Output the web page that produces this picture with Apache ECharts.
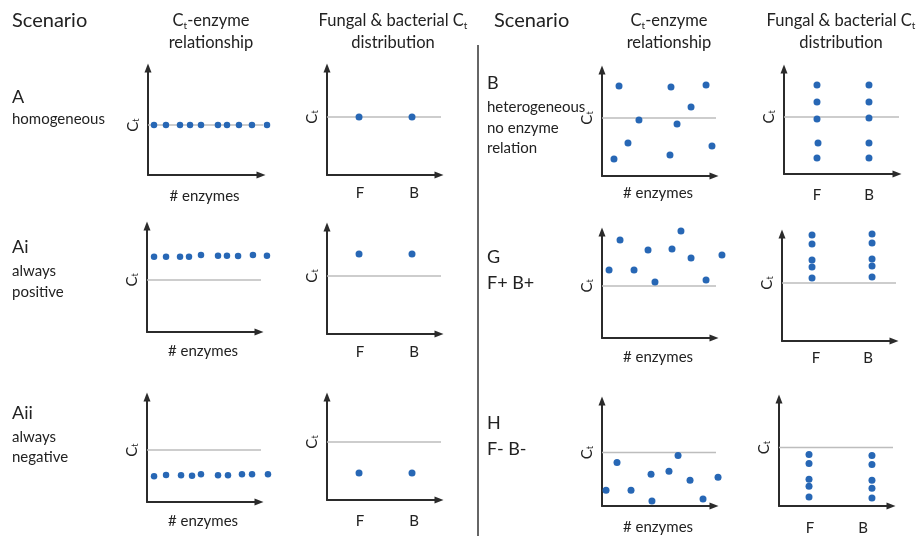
<!DOCTYPE html>
<html><head><meta charset="utf-8">
<script src="https://cdn.jsdelivr.net/npm/echarts@6/dist/echarts.min.js"></script>
<style>html,body{margin:0;padding:0;background:#fff}#c{width:920px;height:536px}</style>
</head><body><div id="c"></div>
<script>
// ---------- DATA (arbitrary units: # enzymes 0-100, Ct 0-100) ----------
// Scenario A: homogeneous
const enzA_x = [5.3, 15.9, 28.3, 37.2, 46.9, 61.9, 69.9, 80.5, 92.0, 105.3];
const enzA_ct = [46.7, 46.7, 46.7, 46.7, 46.7, 46.7, 46.7, 46.7, 46.7, 46.7];
const enzA_thr = 46.7;
const fbA_F = [[28.6, 54.2]];
const fbA_B = [[75.9, 54.2]];
const fbA_thr = 54.2;
// Scenario Ai: always positive
const enzAi_x = [6.3, 17.0, 29.5, 37.5, 48.2, 63.4, 71.4, 81.3, 94.6, 107.1];
const enzAi_ct = [71.0, 71.0, 71.0, 71.0, 72.6, 72.0, 72.0, 71.7, 72.6, 72.0];
const enzAi_thr = 49.1;
const fbAi_F = [[28.6, 74.8]];
const fbAi_B = [[75.9, 74.8]];
const fbAi_thr = 54.2;
// Scenario Aii: always negative
const enzAii_x = [6.3, 17.0, 30.4, 40.2, 48.2, 63.4, 72.3, 84.8, 93.8, 108.0];
const enzAii_ct = [24.5, 25.7, 25.4, 25.0, 26.4, 25.4, 25.4, 26.4, 26.4, 26.4];
const enzAii_thr = 49.5;
const fbAii_F = [[28.6, 26.2]];
const fbAii_B = [[75.9, 26.2]];
const fbAii_thr = 56.3;
// Scenario B: heterogeneous, no enzyme relation
const enzB_x = [15.2, 10.7, 23.2, 33.0, 60.7, 61.6, 67.0, 79.5, 92.9, 98.2];
const enzB_ct = [84.9, 16.0, 31.1, 52.8, 19.8, 84.0, 49.1, 65.1, 85.8, 28.3];
const enzB_thr = 54.7;
const fbB_F = [[29.2, 84.8], [29.2, 68.6], [29.2, 52.4], [30.1, 29.5], [29.2, 15.2]];
const fbB_B = [[75.2, 84.8], [75.2, 68.6], [75.2, 53.3], [75.2, 29.5], [75.2, 15.2]];
const fbB_thr = 54.3;
// Scenario G: F+ B+
const enzG_x = [6.3, 16.1, 28.6, 41.1, 47.3, 62.5, 70.5, 79.5, 92.9, 107.1];
const enzG_ct = [64.2, 92.5, 64.2, 83.0, 52.8, 84.0, 100.9, 75.5, 54.7, 78.3];
const enzG_thr = 49.1;
const fbG_F = [[26.8, 99.1], [26.8, 90.7], [26.8, 75.7], [26.8, 69.2], [26.8, 58.9]];
const fbG_B = [[80.4, 100], [80.4, 91.6], [80.4, 76.6], [80.4, 70.1], [80.4, 59.8]];
const fbG_thr = 54.2;
// Scenario H: F- B-
const enzH_x = [3.6, 13.4, 25.9, 43.8, 44.6, 59.8, 67.9, 78.6, 90.2, 103.6];
const enzH_ct = [15.1, 41.5, 15.1, 30.2, 4.7, 33.0, 48.1, 24.5, 6.6, 27.4];
const enzH_thr = 50.9;
const fbH_F = [[26.8, 48.1], [26.8, 39.8], [26.8, 25.0], [26.8, 18.5], [26.8, 8.3]];
const fbH_B = [[83.0, 47.2], [83.0, 38.9], [83.0, 24.1], [83.0, 16.7], [83.0, 7.4]];
const fbH_thr = 54.6;

const groupLabels = ['F', 'B'];

// ---------- LAYOUT ----------
const zip = (xs, ys) => xs.map((x, i) => [x, ys[i]]);
const panels = [
  {kind:'enz', box:[148, 68, 113, 107], pts: zip(enzA_x, enzA_ct), thr: enzA_thr, reach:110.6, gap:14, dot:6.5},
  {kind:'fb',  box:[327, 68, 112, 107], pts: fbA_F.concat(fbA_B), thr: fbA_thr, reach:110.7, lab:[29.5, 77.7], gap:11, dot:7},
  {kind:'enz', box:[147, 226, 112, 106], pts: zip(enzAi_x, enzAi_ct), thr: enzAi_thr, reach:103.6, gap:12, dot:6.5},
  {kind:'fb',  box:[327, 227, 112, 107], pts: fbAi_F.concat(fbAi_B), thr: fbAi_thr, reach:110.7, lab:[29.5, 77.7], gap:11, dot:7},
  {kind:'enz', box:[147, 397, 112, 105], pts: zip(enzAii_x, enzAii_ct), thr: enzAii_thr, reach:103.6, gap:12, dot:6.5},
  {kind:'fb',  box:[327, 397, 112, 103], pts: fbAii_F.concat(fbAii_B), thr: fbAii_thr, reach:110.7, lab:[29.5, 77.7], gap:14, dot:7},
  {kind:'enz', box:[602, 70, 112, 106], pts: zip(enzB_x, enzB_ct), thr: enzB_thr, reach:111.6, gap:10, dot:7},
  {kind:'fb',  box:[784, 69, 113, 105], pts: fbB_F.concat(fbB_B), thr: fbB_thr, reach:109.7, lab:[29.2, 75.2], gap:14, dot:7},
  {kind:'enz', box:[602, 232, 112, 106], pts: zip(enzG_x, enzG_ct), thr: enzG_thr, reach:103.6, gap:12, dot:7},
  {kind:'fb',  box:[782, 234, 112, 107], pts: fbG_F.concat(fbG_B), thr: fbG_thr, reach:110.7, lab:[30.4, 76.8], gap:10, dot:7},
  {kind:'enz', box:[602, 401, 112, 106], pts: zip(enzH_x, enzH_ct), thr: enzH_thr, reach:103.6, gap:14, dot:7},
  {kind:'fb',  box:[779, 399, 112, 108], pts: fbH_F.concat(fbH_B), thr: fbH_thr, reach:111.6, lab:[27.7, 75.0], gap:15, dot:7}
];

const FONT = 'Lato, "Noto Sans", sans-serif';
const TXT = '#222';
const grids = [], xAxes = [], yAxes = [], series = [];
panels.forEach((p, i) => {
  grids.push({left:p.box[0], top:p.box[1], width:p.box[2], height:p.box[3]});
  const axisLine = {show:true, onZero:false, symbol:['none','triangle'], symbolSize:[7,9],
                    lineStyle:{color:'#2b2b2b', width:2}};
  const xa = {gridIndex:i, type:'value', min:0, max:100, axisLine, axisTick:{show:false},
              splitLine:{show:false}};
  if (p.kind === 'fb') {
    xa.axisLabel = {show:true, customValues:p.lab, margin:p.gap, color:TXT, fontSize:15, fontFamily:FONT,
                    formatter:(v) => v === p.lab[0] ? groupLabels[0] : groupLabels[1]};
  } else {
    xa.axisLabel = {show:false};
    xa.name = '# enzymes'; xa.nameLocation = 'middle'; xa.nameGap = p.gap;
    xa.nameTextStyle = {color:TXT, fontSize:15, fontFamily:FONT, verticalAlign:'top'};
  }
  xAxes.push(xa);
  yAxes.push({gridIndex:i, type:'value', min:0, max:100, axisLine, axisTick:{show:false},
    splitLine:{show:false},
    axisLabel:{show:true, customValues:[p.thr], rotate:90, margin:7,
      formatter:() => '{c|C}{t|t}',
      rich:{c:{fontSize:15, lineHeight:16, color:TXT, fontFamily:FONT},
            t:{fontSize:9, verticalAlign:'bottom', color:TXT, fontFamily:FONT}}}});
  series.push({type:'line', xAxisIndex:i, yAxisIndex:i, data:[[0, p.thr], [p.reach, p.thr]],
    symbol:'none', clip:false, silent:true, z:1, lineStyle:{color:'#bdbdbd', width:1.5}});
  series.push({type:'scatter', xAxisIndex:i, yAxisIndex:i, data:p.pts, symbolSize:p.dot,
    clip:false, z:3, itemStyle:{color:'#2767b5', opacity:1}});
});

function txt(text, x, y, size, align, rich) {
  const st = {text, x, y, fill:TXT, fontSize:size, fontFamily:FONT,
              textAlign:align || 'left', textVerticalAlign:'middle'};
  if (rich) st.rich = rich;
  return {type:'text', style:st, silent:true};
}
const subRich = (s) => ({n:{fontSize:s, lineHeight:20, fill:TXT, fontFamily:FONT},
                         s:{fontSize:Math.round(s*0.62), verticalAlign:'bottom', fill:TXT, fontFamily:FONT}});
const H = 16.5, BODY = 15, BIG = 18;
const graphic = [
  txt('Scenario', 12, 21, 20), txt('Scenario', 494, 21, 20),
  txt('{n|C}{s|t}{n|-enzyme}', 211, 21, H, 'center', subRich(H)),
  txt('relationship', 211, 43, H, 'center'),
  txt('{n|Fungal & bacterial C}{s|t}', 393, 21, H, 'center', subRich(H)),
  txt('distribution', 393, 43, H, 'center'),
  txt('{n|C}{s|t}{n|-enzyme}', 669, 21, H, 'center', subRich(H)),
  txt('relationship', 669, 43, H, 'center'),
  txt('{n|Fungal & bacterial C}{s|t}', 841, 21, H, 'center', subRich(H)),
  txt('distribution', 841, 43, H, 'center'),
  txt('A', 12, 97, BIG), txt('homogeneous', 12, 119, BODY),
  txt('Ai', 12, 247, BIG), txt('always', 12, 271, BODY), txt('positive', 12, 292, BODY),
  txt('Aii', 12, 413, BIG), txt('always', 12, 437, BODY), txt('negative', 12, 457, BODY),
  txt('B', 487, 83, BIG), txt('heterogeneous', 487, 107, BODY), txt('no enzyme', 487, 128, BODY),
  txt('relation', 487, 148, BODY),
  txt('G', 487, 257, BIG), txt('F+ B+', 487, 283, BIG),
  txt('H', 487, 423, BIG), txt('F- B-', 487, 449, BIG),
  {type:'line', shape:{x1:478, y1:45, x2:478, y2:536}, style:{stroke:'#333', lineWidth:1.5}, silent:true}
];

const chart = echarts.init(document.getElementById('c'), null, {renderer:'canvas'});
chart.setOption({animation:false, backgroundColor:'#fff', grid:grids, xAxis:xAxes, yAxis:yAxes,
                 series, graphic});
</script></body></html>
